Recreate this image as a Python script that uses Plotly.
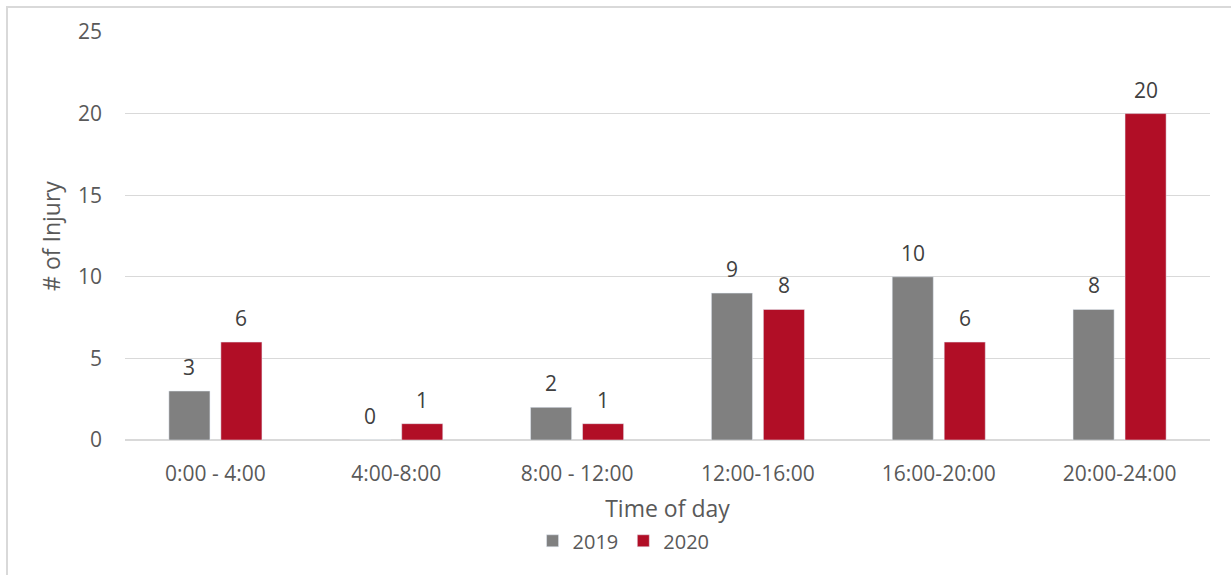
import plotly.graph_objects as go

categories = ["0:00 - 4:00", "4:00-8:00", "8:00 - 12:00", "12:00-16:00", "16:00-20:00", "20:00-24:00"]
values_2019 = [3, 0, 2, 9, 10, 8]
values_2020 = [6, 1, 1, 8, 6, 20]
y_ticks = [0, 5, 10, 15, 20, 25]

FONT = "Open Sans"
fig = go.Figure()
fig.add_trace(go.Bar(name="2019", x=categories, y=values_2019, marker_color="#808080"))
fig.add_trace(go.Bar(name="2020", x=categories, y=values_2020, marker_color="#B10E26"))

annotations = []
for series, shift in ((values_2019, -26), (values_2020, 26)):
    for cat, val in zip(categories, series):
        annotations.append(dict(x=cat, y=val, text=str(val), showarrow=False,
                                xshift=shift, yshift=24, yanchor="middle",
                                font=dict(size=21, color="#404040", family=FONT)))

fig.update_layout(
    width=1231, height=575,
    margin=dict(l=125, r=21, t=32, b=135),
    paper_bgcolor="white", plot_bgcolor="white",
    barmode="group", bargap=0.425, bargroupgap=0.21,
    font=dict(family=FONT, color="#595959", size=21),
    legend=dict(orientation="h", x=0.4595, xanchor="center", y=-0.247, yanchor="middle",
                font=dict(size=20, color="#595959"), itemwidth=30, tracegroupgap=0),
    xaxis=dict(title=dict(text="Time of day", font=dict(size=23, color="#595959"), standoff=14),
               showgrid=False, showline=False, ticks="", tickfont=dict(size=21),
               ticklabelstandoff=19),
    yaxis=dict(title=dict(text="# of Injury", font=dict(size=23, color="#595959"), standoff=10),
               range=[0, 25], tickvals=y_ticks, showgrid=True, gridcolor="#D9D9D9", gridwidth=1,
               zeroline=True, zerolinecolor="#D9D9D9", zerolinewidth=1.5,
               ticks="", tickfont=dict(size=21), ticklabelstandoff=22),
    annotations=annotations,
    shapes=[dict(type="rect", xref="paper", yref="paper",
                 x0=(7 - 125) / 1085, x1=1.05, y0=-0.5, y1=(440 - 7) / 408,
                 line=dict(color="#D9D9D9", width=2), fillcolor="rgba(0,0,0,0)", layer="below")],
)

fig.write_html("out.html", config={"displayModeBar": False},
               post_script="document.body.style.margin='0';")
